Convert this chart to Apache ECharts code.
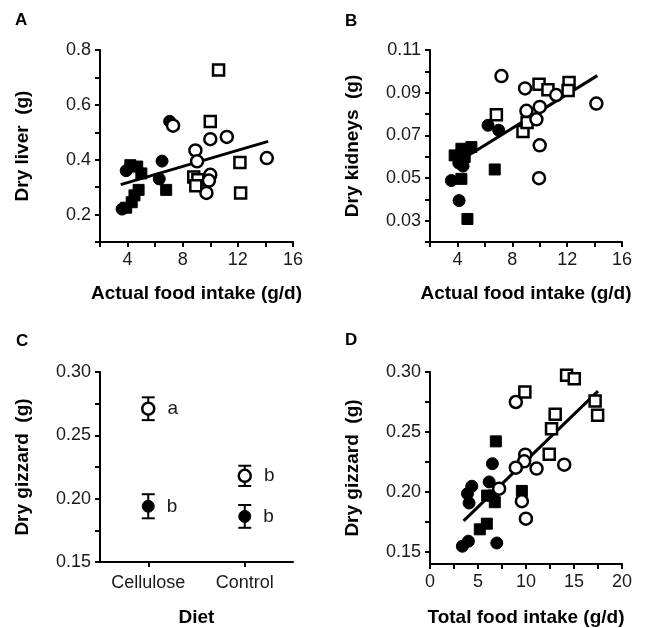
<!DOCTYPE html>
<html><head><meta charset="utf-8">
<script src="https://cdn.jsdelivr.net/npm/echarts@6/dist/echarts.min.js"></script>
<style>html,body{margin:0;padding:0;background:#fff}#c{width:645px;height:628px}</style>
</head><body><div id="c"></div>
<script>
// ---------- Panel A: dry liver vs actual food intake ----------
const aFilledSquares = [[4.2,0.38],[4.7,0.375],[5.0,0.35],[4.8,0.29],[4.5,0.27],[4.3,0.245],[3.9,0.225],[6.8,0.29]];
const aFilledCircles = [[3.6,0.22],[3.9,0.36],[6.3,0.33],[6.5,0.395],[7.05,0.54]];
const aOpenSquares = [[10.6,0.727],[10.0,0.539],[12.15,0.39],[12.2,0.279],[8.8,0.337],[9.1,0.327],[8.95,0.305]];
const aOpenCircles = [[7.3,0.524],[8.92,0.434],[9.04,0.394],[10.0,0.475],[11.2,0.483],[14.1,0.406],[10.0,0.345],[9.9,0.324],[9.72,0.279]];
const aFitLine = [[3.5,0.309],[14.2,0.467]];
const aXTicks = [2,4,6,8,10,12,14,16];
const aXLabels = [4,8,12,16];
const aYTicks = [0.1,0.2,0.3,0.4,0.5,0.6,0.7,0.8];
const aYLabels = [0.2,0.4,0.6,0.8];

// ---------- Panel B: dry kidneys vs actual food intake ----------
const bFilledSquares = [[3.8,0.0606],[4.29,0.0637],[5.02,0.0645],[4.53,0.0598],[4.29,0.0496],[6.72,0.054],[4.73,0.0308]];
const bFilledCircles = [[3.56,0.0488],[4.41,0.0556],[4.1,0.057],[4.12,0.0394],[6.23,0.0747],[7.01,0.0724]];
const bOpenSquares = [[6.84,0.0797],[9.95,0.0939],[10.6,0.0914],[12.14,0.0948],[12.07,0.091],[8.78,0.0718],[9.08,0.076]];
const bOpenCircles = [[7.21,0.0978],[8.93,0.092],[9.03,0.0815],[10.0,0.0833],[9.76,0.0775],[11.2,0.0889],[14.13,0.0849],[10.0,0.0653],[9.95,0.0499]];
const bFitLine = [[3.9,0.057],[14.2,0.098]];
const bXTicks = [2,4,6,8,10,12,14,16];
const bXLabels = [4,8,12,16];
const bYTicks = [0.02,0.03,0.04,0.05,0.06,0.07,0.08,0.09,0.10,0.11];
const bYLabels = [0.03,0.05,0.07,0.09,0.11];

// ---------- Panel C: dry gizzard by diet (mean ± SEM) ----------
const cCategories = ['Cellulose','Control'];
const cOpenMean = [0.271,0.218];
const cOpenSem = [0.009,0.008];
const cOpenLetters = ['a','b'];
const cFilledMean = [0.194,0.186];
const cFilledSem = [0.0095,0.009];
const cFilledLetters = ['b','b'];
const cYTicks = [0.15,0.175,0.20,0.225,0.25,0.275,0.30];
const cYLabels = [0.15,0.20,0.25,0.30];

// ---------- Panel D: dry gizzard vs total food intake ----------
const dFilledSquares = [[6.86,0.2422],[9.57,0.2009],[5.95,0.197],[6.75,0.1915],[6.55,0.197],[5.19,0.1689],[5.92,0.1736]];
const dFilledCircles = [[6.5,0.2236],[6.16,0.2084],[4.35,0.2048],[3.9,0.1986],[4.07,0.1908],[3.37,0.1548],[4.0,0.159],[6.96,0.1575]];
const dOpenSquares = [[9.88,0.2833],[14.23,0.2972],[15.03,0.2944],[17.2,0.2758],[17.46,0.2639],[13.04,0.2647],[12.66,0.2528],[12.42,0.2314]];
const dOpenCircles = [[8.94,0.275],[9.92,0.2311],[9.81,0.2256],[8.94,0.2203],[11.1,0.2195],[13.98,0.2228],[7.2,0.2028],[9.57,0.1923],[9.99,0.1778]];
const dFitLine = [[3.5,0.176],[17.5,0.284]];
const dXTicks = [0,2.5,5,7.5,10,12.5,15,17.5,20];
const dXLabels = [0,5,10,15,20];
const dYTicks = [0.15,0.175,0.20,0.225,0.25,0.275,0.30];
const dYLabels = [0.15,0.20,0.25,0.30];

const FONT = '"Liberation Sans", Arial, Helvetica, sans-serif';
const chart = echarts.init(document.getElementById('c'), null, {renderer:'canvas'});

function axisCommon() {
  return {
    axisLine: {show:true, onZero:false, lineStyle:{color:'#000', width:2}},
    splitLine: {show:false},
    nameLocation: 'middle',
    nameTextStyle: {fontFamily:FONT, fontSize:19, fontWeight:'bold', color:'#000'}
  };
}
function valueAxis(grid, min, max, ticks, labels, fmt, name, gap, isY) {
  return Object.assign(axisCommon(), {
    type:'value', gridIndex:grid, min:min, max:max, name:name, nameGap:gap,
    nameRotate: isY ? 90 : 0,
    axisTick: {show:true, length:5, lineStyle:{color:'#000', width:2}, customValues:ticks},
    axisLabel: {customValues:labels, formatter:fmt, fontFamily:FONT, fontSize:18, color:'#1a1a1a', margin:9}
  });
}
const f0 = v => String(Math.round(v));
const f1 = v => v.toFixed(1);
const f2 = v => v.toFixed(2);

const grids = [
  {left:100, top:50, width:193, height:192},
  {left:430, top:50, width:192, height:192},
  {left:100, top:372, width:193, height:190},
  {left:430, top:372, width:192, height:192}
].map(g => Object.assign(g, {outerBoundsMode:'none', containLabel:false}));

const xAxes = [
  valueAxis(0, 2, 16, aXTicks, aXLabels, f0, 'Actual food intake (g/d)', 42, false),
  valueAxis(1, 2, 16, bXTicks, bXLabels, f0, 'Actual food intake (g/d)', 42, false),
  Object.assign(axisCommon(), {
    type:'category', gridIndex:2, data:cCategories, boundaryGap:true, name:'Diet', nameGap:46,
    axisTick:{show:true, alignWithLabel:true, length:5, lineStyle:{color:'#000', width:2}},
    axisLabel:{fontFamily:FONT, fontSize:18, color:'#1a1a1a', margin:12}
  }),
  valueAxis(3, 0, 20, dXTicks, dXLabels, f0, 'Total food intake (g/d)', 44, false)
];
const yAxes = [
  valueAxis(0, 0.1, 0.8, aYTicks, aYLabels, f1, 'Dry liver  (g)', 68, true),
  valueAxis(1, 0.02, 0.11, bYTicks, bYLabels, f2, 'Dry kidneys  (g)', 68, true),
  valueAxis(2, 0.15, 0.30, cYTicks, cYLabels, f2, 'Dry gizzard  (g)', 68, true),
  valueAxis(3, 0.14, 0.30, dYTicks, dYLabels, f2, 'Dry gizzard  (g)', 68, true)
];

const openStyle = {color:'#fff', borderColor:'#000', borderWidth:2.5, opacity:1};
const filledStyle = {color:'#000', borderColor:'#000', borderWidth:1, opacity:1};
function scatter(idx, data, symbol, open) {
  return {type:'scatter', xAxisIndex:idx, yAxisIndex:idx, data:data, symbol:symbol,
    symbolSize: symbol === 'rect' ? 11 : 12, itemStyle: open ? openStyle : filledStyle, silent:true, z:3};
}
function fit(idx, data) {
  return {type:'line', xAxisIndex:idx, yAxisIndex:idx, data:data, showSymbol:false, symbol:'none',
    lineStyle:{color:'#000', width:3}, silent:true, z:2};
}
const panelSets = [
  [aFilledSquares, aFilledCircles, aOpenSquares, aOpenCircles, aFitLine],
  [bFilledSquares, bFilledCircles, bOpenSquares, bOpenCircles, bFitLine],
  null,
  [dFilledSquares, dFilledCircles, dOpenSquares, dOpenCircles, dFitLine]
];
const series = [];
panelSets.forEach((s, i) => {
  if (!s) return;
  series.push(fit(i, s[4]));
  series.push(scatter(i, s[0], 'rect', false));
  series.push(scatter(i, s[1], 'circle', false));
  series.push(scatter(i, s[2], 'rect', true));
  series.push(scatter(i, s[3], 'circle', true));
});

// Panel C error bars
function errData(mean, sem) { return cCategories.map((c, i) => [i, mean[i] - sem[i], mean[i] + sem[i]]); }
function errRender(params, api) {
  const lo = api.coord([api.value(0), api.value(1)]);
  const hi = api.coord([api.value(0), api.value(2)]);
  const w = 6.5;
  const st = {stroke:'#000', lineWidth:2, fill:null};
  return {type:'group', children:[
    {type:'line', shape:{x1:lo[0], y1:lo[1], x2:hi[0], y2:hi[1]}, style:st},
    {type:'line', shape:{x1:lo[0]-w, y1:lo[1], x2:lo[0]+w, y2:lo[1]}, style:st},
    {type:'line', shape:{x1:hi[0]-w, y1:hi[1], x2:hi[0]+w, y2:hi[1]}, style:st}
  ]};
}
[[cOpenMean, cOpenSem], [cFilledMean, cFilledSem]].forEach(p => {
  series.push({type:'custom', xAxisIndex:2, yAxisIndex:2, renderItem:errRender,
    encode:{x:0, y:[1,2]}, data:errData(p[0], p[1]), silent:true, z:2});
});
function meanSeries(mean, letters, open) {
  return {type:'scatter', xAxisIndex:2, yAxisIndex:2, symbol:'circle', symbolSize:12,
    data: cCategories.map((c, i) => [i, mean[i]]),
    itemStyle: open ? openStyle : filledStyle, silent:true, z:3,
    label:{show:true, position:'right', distance:12, formatter:p => letters[p.dataIndex],
      fontFamily:FONT, fontSize:19, color:'#1a1a1a'}};
}
series.push(meanSeries(cFilledMean, cFilledLetters, false));
series.push(meanSeries(cOpenMean, cOpenLetters, true));

const letterStyle = {fontFamily:FONT, fontSize:17, fontWeight:'bold', color:'#000'};
chart.setOption({
  animation:false,
  backgroundColor:'#fff',
  title:[
    {text:'A', left:15, top:12, padding:0, textStyle:letterStyle},
    {text:'B', left:345, top:13, padding:0, textStyle:letterStyle},
    {text:'C', left:16, top:333, padding:0, textStyle:letterStyle},
    {text:'D', left:345, top:332, padding:0, textStyle:letterStyle}
  ],
  grid:grids,
  xAxis:xAxes,
  yAxis:yAxes,
  series:series
});
</script></body></html>
